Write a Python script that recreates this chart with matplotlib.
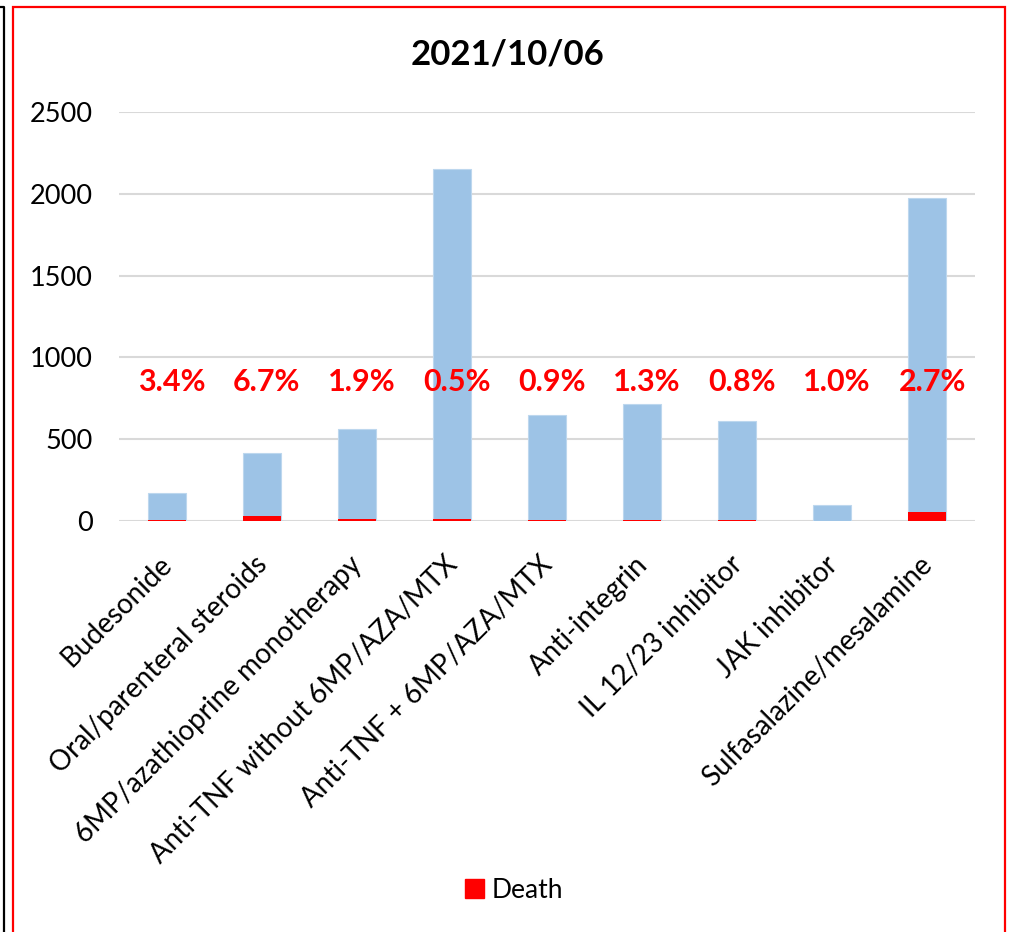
import numpy as np
import matplotlib.pyplot as plt
import matplotlib.transforms as mtransforms
from matplotlib.patches import Patch, Rectangle
from matplotlib.lines import Line2D

plt.rcParams['font.family'] = ['Lato', 'DejaVu Sans']

categories = ["Budesonide", "Oral/parenteral steroids", "6MP/azathioprine monotherapy",
              "Anti-TNF without 6MP/AZA/MTX", "Anti-TNF + 6MP/AZA/MTX", "Anti-integrin",
              "IL 12/23 inhibitor", "JAK inhibitor", "Sulfasalazine/mesalamine"]
total = [172, 416, 563, 2152, 648, 715, 611, 98, 1974]
death = [6, 28, 11, 11, 6, 9, 5, 1, 53]
pct_labels = ["3.4%", "6.7%", "1.9%", "0.5%", "0.9%", "1.3%", "0.8%", "1.0%", "2.7%"]

W, H = 1012, 932
fig = plt.figure(figsize=(W / 100, H / 100), dpi=100)
ax = fig.add_axes([119 / W, 1 - 521 / H, (975 - 119) / W, (521 - 112) / H])

x = np.arange(len(categories))
ax.bar(x, total, width=0.4, color='#9DC3E6', edgecolor='#BDD7EE', linewidth=0.8, zorder=2)
ax.bar(x, death, width=0.4, color='#FF0000', zorder=3)

for xi, lab in zip(x, pct_labels):
    ax.text(xi + 0.05, 852, lab, color='#FF0000', fontsize=22, fontweight='bold',
            ha='center', va='center', zorder=4)

ax.set_xlim(-0.5, len(categories) - 0.5)
ax.set_ylim(0, 2500)
ax.set_yticks([0, 500, 1000, 1500, 2000, 2500])
ax.yaxis.grid(True, color='#D9D9D9', linewidth=1.5, zorder=0)
ax.set_axisbelow(True)
for s in ax.spines.values():
    s.set_visible(False)
ax.tick_params(axis='both', length=0)
ax.tick_params(axis='y', pad=19, labelsize=19.5)
ax.set_xticks(x)
ax.set_xticklabels(categories, rotation=45, ha='right', rotation_mode='anchor', fontsize=20)
ax.tick_params(axis='x', pad=22)
shift = mtransforms.ScaledTranslation(-8 / 100, 0, fig.dpi_scale_trans)
for lbl in ax.get_xticklabels():
    lbl.set_transform(lbl.get_transform() + shift)

fig.text(508 / W, 1 - 55 / H, "2021/10/06", fontsize=25, fontweight='bold',
         ha='center', va='center')

fig.legend(handles=[Patch(color='#FF0000', label='Death')], loc='center',
           bbox_to_anchor=(514 / W, 1 - 890 / H), frameon=False, fontsize=19,
           handlelength=0.7, handleheight=0.7, handletextpad=0.3)

# chart borders
fig.patches.append(Rectangle((13.5 / W, -0.05), (1005 - 13.5) / W, 1.05 - 7 / H,
                             transform=fig.transFigure, fill=False,
                             edgecolor='#FF0000', linewidth=1.6))
fig.lines.append(Line2D([0, 4 / W, 4 / W], [1 - 7 / H, 1 - 7 / H, 0],
                        transform=fig.transFigure, color='black', linewidth=1.6))

fig.savefig("out.png", dpi=100)
